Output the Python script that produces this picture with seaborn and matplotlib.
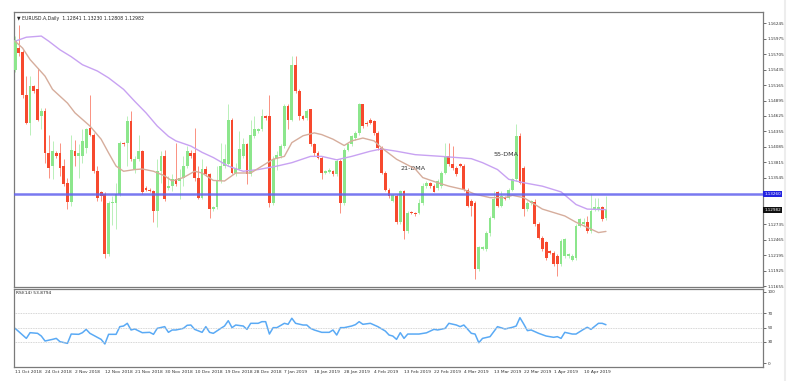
import numpy as np
import pandas as pd
import seaborn as sns

import matplotlib
matplotlib.use('Agg')
import matplotlib.pyplot as plt

# ---------------- DATA ----------------
opens = [1.1543, 1.1581, 1.1575, 1.1500, 1.1451, 1.1514, 1.1509, 1.1462, 1.1471, 1.1398,
         1.1375, 1.1398, 1.1398, 1.1375, 1.1346, 1.1312, 1.1401, 1.1392, 1.1392, 1.1407,
         1.1442, 1.1430, 1.1366, 1.1329, 1.1326, 1.1221, 1.1311, 1.1311, 1.1326, 1.1416,
         1.1416, 1.1453, 1.1370, 1.1387, 1.1401, 1.1337, 1.1334, 1.1332, 1.1297, 1.1366,
         1.1392, 1.1336, 1.1341, 1.1352, 1.1349, 1.1355, 1.1375, 1.1398, 1.1398, 1.1355,
         1.1320, 1.1370, 1.1361, 1.1300, 1.1303, 1.1349, 1.1375, 1.1378, 1.1456, 1.1363,
         1.1370, 1.1392, 1.1413, 1.1361, 1.1427, 1.1436, 1.1439, 1.1462, 1.1462, 1.1311,
         1.1387, 1.1392, 1.1410, 1.1480, 1.1456, 1.1552, 1.1506, 1.1462, 1.1459, 1.1474,
         1.1413, 1.1398, 1.1390, 1.1363, 1.1365, 1.1366, 1.1361, 1.1384, 1.1311, 1.1404,
         1.1413, 1.1424, 1.1433, 1.1483, 1.1451, 1.1456, 1.1453, 1.1433, 1.1407, 1.1363,
         1.1334, 1.1314, 1.1323, 1.1277, 1.1332, 1.1262, 1.1295, 1.1294, 1.1294, 1.1311,
         1.1340, 1.1345, 1.1340, 1.1337, 1.1340, 1.1363, 1.1392, 1.1378, 1.1372, 1.1378,
         1.1375, 1.1334, 1.1314, 1.1311, 1.1195, 1.1230, 1.1230, 1.1259, 1.1285, 1.1329,
         1.1305, 1.1320, 1.1320, 1.1334, 1.1352, 1.1427, 1.1372, 1.1300, 1.1310, 1.1312,
         1.1274, 1.1250, 1.1242, 1.1227, 1.1224, 1.1218, 1.1204, 1.1218, 1.1218, 1.1212,
         1.1215, 1.1271, 1.1274, 1.1277, 1.1262, 1.1300, 1.1300, 1.1303, 1.12841]
highs = [1.1602, 1.1622, 1.1578, 1.1532, 1.1532, 1.1517, 1.1546, 1.1477, 1.1477, 1.1430,
         1.1419, 1.1401, 1.1416, 1.1387, 1.1355, 1.1430, 1.1421, 1.1413, 1.1439, 1.1442,
         1.1500, 1.1433, 1.1375, 1.1332, 1.1329, 1.1314, 1.1323, 1.1346, 1.1419, 1.1417,
         1.1462, 1.1471, 1.1392, 1.1430, 1.1404, 1.1340, 1.1336, 1.1334, 1.1387, 1.1401,
         1.1404, 1.1358, 1.1361, 1.1416, 1.1370, 1.1392, 1.1410, 1.1404, 1.1442, 1.1375,
         1.1387, 1.1375, 1.1363, 1.1305, 1.1375, 1.1416, 1.1413, 1.1483, 1.1459, 1.1381,
         1.1436, 1.1424, 1.1416, 1.1456, 1.1462, 1.1442, 1.1474, 1.1465, 1.1500, 1.1392,
         1.1401, 1.1413, 1.1483, 1.1483, 1.1567, 1.1567, 1.1509, 1.1464, 1.1474, 1.1474,
         1.1416, 1.1401, 1.1392, 1.1369, 1.1372, 1.1369, 1.1387, 1.1387, 1.1407, 1.1416,
         1.1430, 1.1436, 1.1485, 1.1484, 1.1453, 1.1459, 1.1456, 1.1436, 1.1410, 1.1366,
         1.1337, 1.1326, 1.1326, 1.1334, 1.1334, 1.1297, 1.1297, 1.1295, 1.1317, 1.1346,
         1.1349, 1.1347, 1.1343, 1.1352, 1.1366, 1.1416, 1.1416, 1.1410, 1.1375, 1.1380,
         1.1378, 1.1337, 1.1317, 1.1314, 1.1236, 1.1235, 1.1262, 1.1288, 1.1332, 1.1332,
         1.1332, 1.1322, 1.1337, 1.1355, 1.1448, 1.1433, 1.1375, 1.1314, 1.1316, 1.1317,
         1.1277, 1.1253, 1.1244, 1.1229, 1.1227, 1.1221, 1.1247, 1.1250, 1.1224, 1.1221,
         1.1274, 1.1285, 1.1285, 1.1288, 1.1326, 1.1320, 1.1320, 1.1305, 1.13230]
lows = [1.1540, 1.1567, 1.1494, 1.1448, 1.1430, 1.1503, 1.1453, 1.1439, 1.1381, 1.1355,
        1.1352, 1.1390, 1.1358, 1.1341, 1.1300, 1.1305, 1.1375, 1.1355, 1.1381, 1.1398,
        1.1427, 1.1363, 1.1314, 1.1314, 1.1215, 1.1218, 1.1273, 1.1265, 1.1323, 1.1410,
        1.1375, 1.1384, 1.1363, 1.1384, 1.1326, 1.1332, 1.1329, 1.1277, 1.1268, 1.1346,
        1.1314, 1.1334, 1.1332, 1.1340, 1.1317, 1.1340, 1.1372, 1.1390, 1.1349, 1.1317,
        1.1317, 1.1358, 1.1285, 1.1297, 1.1300, 1.1346, 1.1372, 1.1375, 1.1361, 1.1358,
        1.1369, 1.1390, 1.1343, 1.1358, 1.1424, 1.1433, 1.1436, 1.1456, 1.1303, 1.1308,
        1.1369, 1.1390, 1.1407, 1.1439, 1.1453, 1.1503, 1.1456, 1.1455, 1.1456, 1.1410,
        1.1392, 1.1387, 1.1352, 1.1361, 1.1363, 1.1358, 1.1358, 1.1294, 1.1308, 1.1401,
        1.1410, 1.1421, 1.1430, 1.1442, 1.1445, 1.1448, 1.1430, 1.1404, 1.1361, 1.1332,
        1.1320, 1.1312, 1.1274, 1.1274, 1.1247, 1.1259, 1.1291, 1.1288, 1.1291, 1.1308,
        1.1337, 1.1337, 1.1329, 1.1334, 1.1337, 1.1361, 1.1375, 1.1369, 1.1358, 1.1373,
        1.1332, 1.1303, 1.1288, 1.1178, 1.1192, 1.1228, 1.1227, 1.1253, 1.1282, 1.1303,
        1.1303, 1.1315, 1.1317, 1.1332, 1.1349, 1.1343, 1.1288, 1.1297, 1.1308, 1.1271,
        1.1247, 1.1227, 1.1212, 1.1222, 1.1201, 1.1183, 1.1201, 1.1215, 1.1215, 1.1209,
        1.1212, 1.1268, 1.1271, 1.1259, 1.1259, 1.1297, 1.1297, 1.1279, 1.12808]
closes = [1.1596, 1.1573, 1.1500, 1.1451, 1.1514, 1.1506, 1.1456, 1.1471, 1.1398, 1.1372,
          1.1401, 1.1392, 1.1372, 1.1343, 1.1312, 1.1404, 1.1392, 1.1398, 1.1419, 1.1439,
          1.1430, 1.1366, 1.1320, 1.1323, 1.1221, 1.1311, 1.1312, 1.1326, 1.1416, 1.1413,
          1.1453, 1.1387, 1.1387, 1.1401, 1.1330, 1.1334, 1.1332, 1.1297, 1.1366, 1.1392,
          1.1317, 1.1341, 1.1352, 1.1343, 1.1355, 1.1375, 1.1401, 1.1392, 1.1355, 1.1320,
          1.1370, 1.1361, 1.1300, 1.1303, 1.1349, 1.1375, 1.1387, 1.1456, 1.1363, 1.1372,
          1.1404, 1.1413, 1.1361, 1.1430, 1.1439, 1.1439, 1.1462, 1.1459, 1.1311, 1.1387,
          1.1395, 1.1410, 1.1480, 1.1456, 1.1552, 1.1506, 1.1462, 1.1458, 1.1471, 1.1413,
          1.1398, 1.1390, 1.1363, 1.1366, 1.1369, 1.1361, 1.1384, 1.1311, 1.1404, 1.1413,
          1.1427, 1.1433, 1.1483, 1.1445, 1.1448, 1.1451, 1.1433, 1.1407, 1.1363, 1.1334,
          1.1323, 1.1324, 1.1277, 1.1332, 1.1262, 1.1294, 1.1293, 1.1291, 1.1311, 1.1340,
          1.1346, 1.1340, 1.1330, 1.1349, 1.1363, 1.1392, 1.1378, 1.1372, 1.1361, 1.1375,
          1.1334, 1.1305, 1.1305, 1.1195, 1.1233, 1.1233, 1.1259, 1.1285, 1.1317, 1.1305,
          1.1323, 1.1317, 1.1334, 1.1352, 1.1427, 1.1346, 1.1300, 1.1311, 1.1314, 1.1274,
          1.1250, 1.1230, 1.1215, 1.1224, 1.1204, 1.1204, 1.1244, 1.1247, 1.1221, 1.1218,
          1.1271, 1.1282, 1.1277, 1.1262, 1.1297, 1.1303, 1.1303, 1.1282, 1.12982]

# moving averages read at sample bars
ma55_bar = [0, 3, 7, 9, 12, 15, 18, 22, 25, 29, 32, 35, 38, 41, 43, 47, 50, 53, 57, 61, 65, 70,
            74, 79, 82, 86, 90, 95, 98, 102, 107, 114, 122, 125, 129, 132, 136, 141, 146, 150, 153, 158]
ma55 = [1.1593, 1.1600, 1.1602, 1.1593, 1.1578, 1.1566, 1.1552, 1.1541, 1.1529, 1.1509, 1.1488,
        1.1468, 1.1445, 1.1427, 1.1419, 1.1410, 1.1399, 1.1390, 1.1375, 1.1366, 1.1369, 1.1375,
        1.1381, 1.1392, 1.1392, 1.1386, 1.1392, 1.1401, 1.1405, 1.1401, 1.1395, 1.1392, 1.1388,
        1.1381, 1.1369, 1.1352, 1.1346, 1.1340, 1.1330, 1.1308, 1.1300, 1.1299]
ma21_bar = [0, 2, 4, 8, 10, 14, 16, 20, 23, 25, 27, 29, 32, 34, 37, 40, 42, 45, 48, 50, 53, 56,
            59, 63, 66, 69, 72, 74, 77, 80, 82, 85, 88, 90, 93, 96, 98, 102, 107, 109, 113, 116,
            120, 123, 127, 131, 133, 136, 139, 141, 144, 147, 150, 153, 156, 158]
ma21 = [1.1593, 1.1581, 1.1561, 1.1532, 1.1509, 1.1485, 1.1468, 1.1445, 1.1422, 1.1398, 1.1375,
        1.1366, 1.1369, 1.1370, 1.1366, 1.1358, 1.1349, 1.1355, 1.1366, 1.1363, 1.1350, 1.1349,
        1.1363, 1.1363, 1.1375, 1.1387, 1.1392, 1.1416, 1.1428, 1.1433, 1.1430, 1.1422, 1.1411,
        1.1419, 1.1424, 1.1419, 1.1407, 1.1387, 1.1370, 1.1355, 1.1346, 1.1340, 1.1334, 1.1326,
        1.1320, 1.1320, 1.1324, 1.1320, 1.1308, 1.1300, 1.1294, 1.1288, 1.1277, 1.1268, 1.1259,
        1.1261]

rsi_bar = [0, 1, 3, 4, 6, 7, 8, 10, 11, 12, 14, 15, 17, 18, 19, 20, 22, 23, 24, 25, 27, 28, 29,
           30, 31, 32, 34, 36, 37, 38, 40, 41, 42, 43, 45, 46, 47, 48, 50, 51, 52, 53, 55, 56, 57,
           58, 59, 61, 62, 63, 65, 66, 67, 68, 69, 70, 72, 73, 74, 75, 77, 78, 79, 80, 82, 84, 85,
           86, 87, 88, 90, 91, 92, 93, 95, 97, 99, 100, 101, 102, 103, 104, 105, 108, 110, 112,
           113, 115, 116, 118, 119, 120, 122, 123, 124, 125, 127, 129, 131, 133, 134, 135, 136,
           137, 138, 140, 142, 144, 145, 146, 147, 149, 150, 152, 153, 154, 156, 157, 158]
rsi = [48.8, 44.1, 34.7, 42.7, 41.8, 38.0, 31.0, 33.3, 34.7, 30.0, 27.7, 40.8, 40.4, 42.7, 47.4,
       41.8, 36.1, 33.3, 26.8, 40.4, 40.4, 51.2, 52.1, 55.9, 46.5, 47.9, 42.7, 43.2, 40.4, 48.8,
       51.2, 43.2, 46.5, 46.5, 48.8, 53.1, 53.5, 47.4, 43.2, 51.2, 43.2, 41.8, 48.8, 52.1, 59.6,
       49.8, 53.5, 52.1, 47.4, 55.9, 55.9, 58.2, 58.2, 40.8, 49.8, 49.8, 55.9, 54.5, 63.0, 55.9,
       53.5, 53.5, 48.8, 46.5, 43.2, 43.2, 46.5, 39.4, 49.8, 49.8, 52.1, 54.0, 58.2, 54.5, 55.9,
       51.2, 45.0, 39.4, 38.0, 33.3, 42.7, 34.7, 40.8, 40.8, 42.5, 47.4, 46.5, 48.8, 55.9, 53.5,
       51.2, 53.5, 41.8, 40.8, 28.6, 34.7, 37.1, 51.2, 47.9, 50.3, 52.1, 63.8, 55.0, 45.6, 46.5,
       41.8, 38.0, 36.2, 37.1, 34.7, 43.2, 40.8, 40.8, 47.4, 50.3, 47.4, 55.9, 55.9, 53.9]

date_labels = ["11 Oct 2018", "24 Oct 2018", "2 Nov 2018", "12 Nov 2018", "21 Nov 2018",
               "30 Nov 2018", "10 Dec 2018", "19 Dec 2018", "28 Dec 2018", "7 Jan 2019",
               "18 Jan 2019", "28 Jan 2019", "4 Feb 2019", "13 Feb 2019", "22 Feb 2019",
               "4 Mar 2019", "13 Mar 2019", "22 Mar 2019", "1 Apr 2019", "10 Apr 2019"]
price_labels = ["1.16245", "1.15975", "1.15705", "1.15435", "1.15165", "1.14895", "1.14625",
                "1.14355", "1.14085", "1.13815", "1.13545", "1.12735", "1.12465", "1.12195",
                "1.11925", "1.11655"]
hline_price = 1.13260
last_close = 1.12982

df = pd.DataFrame({"open": opens, "high": highs, "low": lows, "close": closes})
df["bar"] = np.arange(len(df))
df["bull"] = df["close"] >= df["open"]

# ---------------- PLOT ----------------
sns.set_style("white")
plt.rcParams['font.family'] = ['DejaVu Sans']

fig = plt.figure(figsize=(8.1, 3.81), dpi=100)
# faint screenshot edge, behind everything
fig.add_artist(plt.Line2D([785/810, 785/810], [0, 1], color='#ededed', lw=1.5, zorder=-5))

ax = fig.add_axes([14/810, 1-287/381, 749/810, 275/381])
ax_rsi = fig.add_axes([14/810, 1-367/381, 749/810, 78/381])

bull_col = '#8ce68c'
bear_col = '#f7492e'
colors = np.where(df["bull"], bull_col, bear_col)

ax.vlines(df["bar"], df["low"], df["high"], colors=colors, lw=0.6, alpha=0.7, zorder=2)
body_lo = df[["open", "close"]].min(axis=1)
body_h = (df["close"] - df["open"]).abs().clip(lower=0.00008)
ax.bar(df["bar"], body_h, bottom=body_lo, width=0.75, color=colors, lw=0, zorder=3)

sns.lineplot(x=ma55_bar, y=ma55, ax=ax, color='#c8a2f2', lw=1.0, zorder=4)
sns.lineplot(x=ma21_bar, y=ma21, ax=ax, color='#d6ad9c', lw=1.0, zorder=4)

ax.axhline(hline_price, color='#6262ee', lw=1.8, alpha=0.85, zorder=5)

ax.text(103, 1.1371, "21-DMA", fontsize=4.6, color='#333333', ha='left', va='center')
ax.text(128, 1.1396, "55-DMA", fontsize=4.6, color='#333333', ha='left', va='center')
ax.text(0.004, 0.985, "\u25bc EURUSD.A,Daily  1.12841 1.13230 1.12808 1.12982",
        transform=ax.transAxes, fontsize=3.3, color='#222222', va='top', ha='left')

xlim = (-0.3, 200)
ax.set_xlim(xlim)
ax.set_ylim(1.11640, 1.16440)
ax.set_xticks([])
ax.yaxis.tick_right()
ax.set_yticks([float(s) for s in price_labels])
ax.set_yticklabels(price_labels)
ax.tick_params(axis='y', labelsize=3.0, length=2, width=0.5, pad=1.2, colors='#333333')

# price boxes on the axis
ax.text(1.002, hline_price, "1.13260", transform=ax.get_yaxis_transform(), fontsize=3.0,
        color='white', va='center', ha='left',
        bbox=dict(boxstyle='square,pad=0.3', fc='#2323e0', ec='none'))
ax.text(1.002, last_close, "1.12982", transform=ax.get_yaxis_transform(), fontsize=3.0,
        color='white', va='center', ha='left',
        bbox=dict(boxstyle='square,pad=0.3', fc='#111111', ec='none'))

# RSI panel
sns.lineplot(x=rsi_bar, y=rsi, ax=ax_rsi, color='#5aaaf5', lw=1.1)
for lvl in [70, 50, 30]:
    ax_rsi.axhline(lvl, color='#c8c8c8', lw=0.6, ls=(0, (1, 1)))
ax_rsi.set_xlim(xlim)
ax_rsi.set_ylim(-5.6, 104.2)
ax_rsi.yaxis.tick_right()
ax_rsi.set_yticks([100, 70, 50, 30, 0])
ax_rsi.set_yticklabels(["100", "70", "50", "30", "0"])
ax_rsi.tick_params(axis='y', labelsize=3.0, length=2, width=0.5, pad=1.2, colors='#333333')
ax_rsi.set_xticks(np.arange(len(date_labels)) * 8)
ax_rsi.set_xticklabels(date_labels, ha='left')
ax_rsi.tick_params(axis='x', labelsize=3.2, length=1.5, width=0.5, pad=1, colors='#333333')
ax_rsi.text(0.003, 0.97, "RSI(14) 53.8794", transform=ax_rsi.transAxes, fontsize=3.2,
            color='#222222', va='top', ha='left')

for a in (ax, ax_rsi):
    a.set_xlabel("")
    a.set_ylabel("")
    for sp in a.spines.values():
        sp.set_color('#7a7a7a')
        sp.set_linewidth(0.9)

fig.savefig("out.png", dpi=100)
